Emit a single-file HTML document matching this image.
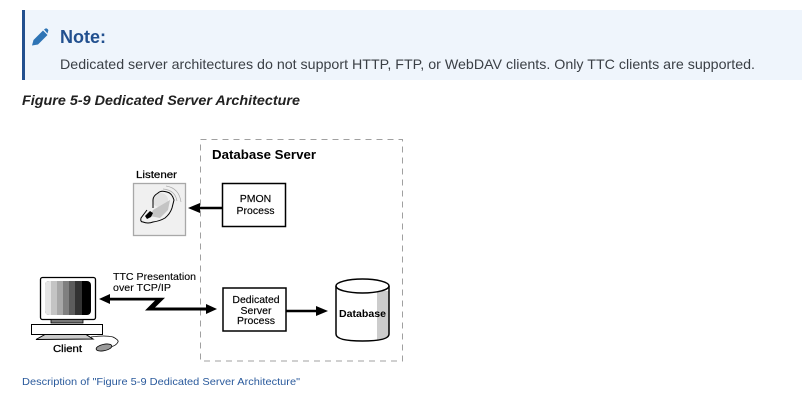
<!DOCTYPE html>
<html><head><meta charset="utf-8"><style>
html,body{margin:0;padding:0;background:#fff}
svg{display:block}
text{font-family:"Liberation Sans",Arial,sans-serif}
</style></head><body>
<svg width="802" height="402" viewBox="0 0 802 402" xmlns="http://www.w3.org/2000/svg">
<rect x="22" y="10" width="780" height="70" fill="#eff5fc"/>
<rect x="22" y="10" width="3" height="70" fill="#22508f"/>
<path d="M32 45.500 L33.500 40 L43 30.500 L47.500 35 L38 44.500 Z" fill="#2e74b5"/>
<path d="M44 29.500 L45.500 28.500 Q46.500 28 47.500 29 L48 29.500 Q48.800 30.500 48 31.500 L47.500 33.500 Z" fill="#2e74b5"/>
<text x="60" y="43" font-size="18" font-weight="bold" fill="#22508f" textLength="46" lengthAdjust="spacingAndGlyphs">Note:</text>
<text x="60" y="69" font-size="14" fill="#3a3f45" textLength="695" lengthAdjust="spacingAndGlyphs">Dedicated server architectures do not support HTTP, FTP, or WebDAV clients. Only TTC clients are supported.</text>
<text x="22" y="105" font-size="13.500" font-weight="bold" font-style="italic" fill="#222" textLength="278" lengthAdjust="spacingAndGlyphs">Figure 5-9 Dedicated Server Architecture</text>

<rect x="200.500" y="139.500" width="202" height="221.500" fill="none" stroke="#a0a0a0" stroke-dasharray="6 5"/>
<text x="212" y="159" font-size="12.500" font-weight="bold" fill="#000" textLength="104" lengthAdjust="spacingAndGlyphs">Database Server</text>

<text x="136" y="178" font-size="10.500" fill="#000" stroke="#000" stroke-width=".25" textLength="41" lengthAdjust="spacingAndGlyphs">Listener</text>
<rect x="133.500" y="183.500" width="52" height="52" fill="#f0f0f0" stroke="#a8a8a8" stroke-width="1.300"/>
<ellipse cx="160" cy="200" rx="8" ry="7" fill="#e2e2e2"/>
<path d="M153 210 L170 200 L168 210 L160 218 L150 216 Z" fill="#c4c4c4"/>
<path d="M147 210 L141 218 Q140 222 143 222 Q148 224 153 222 Q160 221 165 218 Q170 214 172 208 L174 200 Q172 193 167 192 Q161 190 158 193 Q153 196 153 200 L153 208" fill="none" stroke="#000" stroke-width="1"/>
<path d="M145 216 L150 211 L153 213 L151 217 L147 219 Z" fill="#000"/>
<path d="M163 189 Q175 190 177 201 M166 186 Q179 188 181 202" fill="none" stroke="#aaa" stroke-width=".7"/>

<rect x="222.500" y="183.500" width="63" height="43" fill="#fff" stroke="#000" stroke-width="1.500"/>
<text x="255.500" y="202" font-size="10.500" text-anchor="middle" fill="#000" stroke="#000" stroke-width=".15">PMON</text>
<text x="255.500" y="214" font-size="10.500" text-anchor="middle" fill="#000" stroke="#000" stroke-width=".15">Process</text>
<path d="M222 208 H197" stroke="#000" stroke-width="2.500"/>
<path d="M188 208 L200 203 V213 Z" fill="#000"/>

<rect x="40.500" y="277.500" width="55" height="42" rx="2" fill="#fff" stroke="#000" stroke-width="1.300"/>
<g>
<rect x="45" y="281" width="46" height="34" rx="4" fill="#000"/>
<path d="M49 281 H51 V315 H49 Q45 315 45 311 V285 Q45 281 49 281 Z" fill="#e4e4e4"/>
<rect x="51" y="281" width="6" height="34" fill="#c4c4c4"/>
<rect x="57" y="281" width="6" height="34" fill="#a8a8a8"/>
<rect x="63" y="281" width="6" height="34" fill="#808080"/>
<rect x="69" y="281" width="6" height="34" fill="#5c5c5c"/>
<rect x="75" y="281" width="7" height="34" fill="#333"/>
</g>
<rect x="51" y="319.500" width="32" height="3.500" fill="#777" stroke="#000" stroke-width=".8"/>
<rect x="31.500" y="324.500" width="71" height="10" fill="#fff" stroke="#000" stroke-width="1"/>
<path d="M45 334.500 L86 334.500 L93 339 L36 339.500 Z" fill="#ccc" stroke="#000" stroke-width="1"/>
<path d="M91 337 Q105 335 113 337 Q119 340 118 342 Q116 346 110 347" fill="none" stroke="#000" stroke-width=".8"/>
<ellipse cx="104" cy="347.500" rx="8" ry="3.200" fill="#999" stroke="#000" stroke-width=".8" transform="rotate(-12 104 347.500)"/>
<text x="53" y="352" font-size="10.500" fill="#000" stroke="#000" stroke-width=".3" textLength="29" lengthAdjust="spacingAndGlyphs">Client</text>

<text x="113" y="280" font-size="10.500" fill="#000" stroke="#000" stroke-width=".1" textLength="83" lengthAdjust="spacingAndGlyphs">TTC Presentation</text>
<text x="113" y="291" font-size="10.500" fill="#000" stroke="#000" stroke-width=".1" textLength="58" lengthAdjust="spacingAndGlyphs">over TCP/IP</text>
<path d="M99 299 L110 294 V304 Z" fill="#000"/>
<path d="M108 297.800 H165 L155 307.500 H208 V310.500 H145 L155 300.500 H108 Z" fill="#000"/>
<path d="M217 309 L206 304 V314 Z" fill="#000"/>

<rect x="223" y="288" width="63" height="43" fill="#fff" stroke="#000" stroke-width="1.500"/>
<text x="256" y="303" font-size="10.500" text-anchor="middle" fill="#000" stroke="#000" stroke-width=".15">Dedicated</text>
<text x="256" y="314" font-size="10.500" text-anchor="middle" fill="#000" stroke="#000" stroke-width=".15">Server</text>
<text x="256" y="324" font-size="10.500" text-anchor="middle" fill="#000" stroke="#000" stroke-width=".15">Process</text>
<path d="M286 311 H319" stroke="#000" stroke-width="2.500"/>
<path d="M328 311 L316 306 V316 Z" fill="#000"/>

<path d="M336 286 V334 Q336 341 362.500 341 Q389 341 389 334 V286 Z" fill="#fff"/>
<path d="M377 291 H389 V334 Q389 338 377 340 Z" fill="#ccc"/>
<path d="M336 286 V334 Q336 341 362.500 341 Q389 341 389 334 V286" fill="none" stroke="#000" stroke-width="1.500"/>
<ellipse cx="362.500" cy="286" rx="26.500" ry="7" fill="#fff" stroke="#000" stroke-width="1.500"/>
<text x="339" y="317" font-size="10.500" font-weight="bold" fill="#000" textLength="47" lengthAdjust="spacingAndGlyphs">Database</text>

<text x="22" y="385" font-size="10.500" fill="#2a5a9c" textLength="278" lengthAdjust="spacingAndGlyphs">Description of "Figure 5-9 Dedicated Server Architecture"</text>
</svg>
</body></html>
